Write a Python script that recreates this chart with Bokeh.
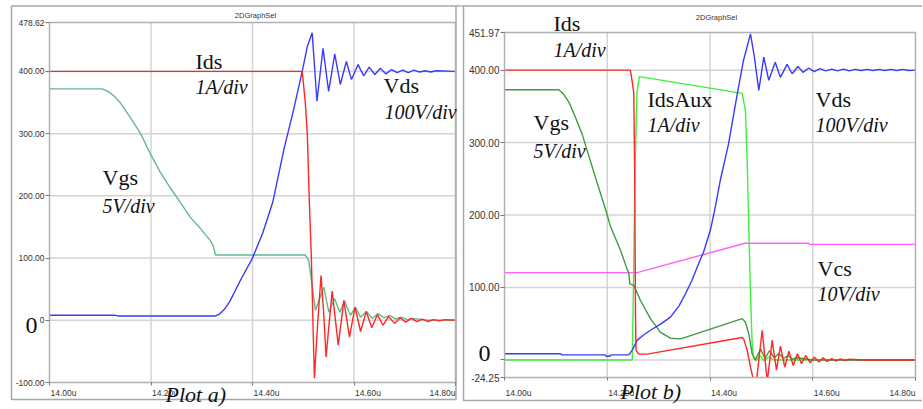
from bokeh.plotting import figure
from bokeh.models import Range1d, FixedTicker, Label, LinearAxis, BoxAnnotation
from bokeh.layouts import row
from bokeh.embed import file_html
from bokeh.resources import INLINE

# ---------------- data ----------------
X_TICKS = [14.0, 14.2, 14.4, 14.6, 14.8]
X_TICK_LABELS = ["14.00u", "14.20u", "14.40u", "14.60u", "14.80u"]

A_Y_TICKS = [-100, 0, 100, 200, 300, 400, 478.62]
A_Y_LABELS = ["-100.00", "0", "100.00", "200.00", "300.00", "400.00", "478.62"]
B_Y_TICKS = [-24.25, 0, 100, 200, 300, 400, 451.97]
B_Y_LABELS = ["-24.25", "", "100.00", "200.00", "300.00", "400.00", "451.97"]

# Plot a)  (time in us, value in chart units)
A_IDS = [(14.00, 400), (14.498, 400), (14.504, 350), (14.508, 300), (14.512, 190), (14.516, 100),
         (14.519, 0), (14.522, -93), (14.528, -10), (14.535, 72), (14.540, 15), (14.545, -59),
         (14.551, -5), (14.557, 47), (14.563, 3), (14.569, -40), (14.580, 32), (14.591, -27),
         (14.602, 21), (14.613, -18), (14.624, 14), (14.635, -12), (14.646, 9), (14.657, -8),
         (14.668, 6), (14.680, -5), (14.691, 4), (14.702, -3), (14.713, 3), (14.724, -2),
         (14.735, 2), (14.746, -2), (14.757, 1), (14.768, -1), (14.779, 1), (14.80, 0)]
A_VDS = [(14.00, 8), (14.13, 8), (14.135, 7), (14.327, 7), (14.335, 10), (14.345, 18), (14.355, 30),
         (14.376, 64), (14.40, 100), (14.42, 140), (14.44, 190), (14.462, 275), (14.48, 335),
         (14.498, 400), (14.508, 440), (14.5176, 462), (14.527, 352), (14.539, 437), (14.550, 368),
         (14.562, 428), (14.573, 379), (14.585, 416), (14.595, 387), (14.608, 411), (14.619, 393),
         (14.630, 407), (14.641, 395), (14.652, 405), (14.663, 396), (14.674, 403), (14.685, 398),
         (14.696, 402), (14.707, 398), (14.718, 402), (14.729, 399), (14.740, 401), (14.751, 399),
         (14.762, 401), (14.80, 400)]
A_VGS = [(14.00, 372), (14.104, 372), (14.115, 368), (14.128, 360), (14.140, 349), (14.160, 325),
         (14.179, 301), (14.199, 267), (14.219, 237), (14.238, 213), (14.258, 189), (14.278, 165),
         (14.298, 147), (14.317, 128), (14.3225, 120), (14.327, 105), (14.504, 105), (14.511, 96),
         (14.518, 53), (14.524, 16), (14.5405, 53), (14.5504, 13), (14.5616, 35), (14.572, 13),
         (14.5813, 31), (14.593, 8), (14.603, 21), (14.6128, 5), (14.6246, 14), (14.636, 3),
         (14.647, 11), (14.659, 4), (14.6705, 8), (14.682, 2), (14.693, 5), (14.705, 1),
         (14.7166, 3), (14.74, 0.5), (14.80, 0)]

# Plot b)
B_IDS = [(14.00, 400), (14.245, 400), (14.2497, 379), (14.2517, 368), (14.2535, 250), (14.255, 60),
         (14.256, 13), (14.2614, 8), (14.2778, 8), (14.4627, 31), (14.466, 28), (14.4725, 13),
         (14.4788, -10), (14.4853, -30), (14.4887, -40), (14.5016, 41), (14.5114, -30), (14.521, 27),
         (14.5294, -14), (14.537, 19), (14.5456, -10), (14.5534, 12), (14.562, -7.6), (14.570, 8.5),
         (14.578, -5), (14.5865, 6), (14.595, -4), (14.603, 4), (14.612, -3), (14.620, 3),
         (14.628, -2), (14.637, 2), (14.645, -1.5), (14.654, 1.5), (14.662, -1), (14.671, 1),
         (14.70, 0), (14.80, 0)]
B_VDS = [(14.00, 8.5), (14.109, 8.5), (14.112, 7), (14.195, 7), (14.198, 5), (14.205, 5), (14.208, 7),
         (14.242, 7), (14.250, 15), (14.258, 27), (14.270, 34), (14.284, 41), (14.303, 49),
         (14.323, 59), (14.340, 75), (14.352, 91), (14.365, 110), (14.375, 128), (14.388, 150),
         (14.401, 180), (14.410, 210), (14.420, 248), (14.436, 298), (14.453, 367), (14.465, 413),
         (14.4788, 450), (14.486, 420), (14.495, 372), (14.5047, 418), (14.5144, 386), (14.527, 411),
         (14.537, 390), (14.550, 408), (14.560, 395), (14.571, 405), (14.581, 397), (14.592, 403),
         (14.603, 398), (14.614, 402), (14.625, 399), (14.637, 401.5), (14.648, 399), (14.660, 401.5),
         (14.671, 399), (14.683, 401), (14.694, 399.5), (14.706, 401), (14.717, 399.5), (14.729, 401),
         (14.740, 399.5), (14.752, 401), (14.763, 399.5), (14.775, 401), (14.786, 399.5), (14.80, 400)]
B_VGS = [(14.00, 373), (14.1057, 373), (14.115, 367), (14.1252, 356), (14.138, 335), (14.151, 312),
         (14.164, 282), (14.177, 252), (14.1966, 208), (14.206, 185), (14.226, 151), (14.2388, 125),
         (14.242, 120), (14.244, 105), (14.2517, 103), (14.2647, 82), (14.284, 57), (14.3037, 38),
         (14.323, 30), (14.343, 29), (14.4627, 57), (14.469, 52), (14.4755, 36), (14.482, 8.5),
         (14.488, 0), (14.4985, 15), (14.507, 2), (14.516, 13), (14.525, 3), (14.534, 9),
         (14.543, 2), (14.552, 6), (14.560, 1), (14.570, 3), (14.60, 0), (14.80, 0)]
B_AUX = [(14.00, 0), (14.2486, 0), (14.2510, 100), (14.2540, 260), (14.2580, 370), (14.2625, 391),
         (14.4627, 368), (14.469, 344), (14.4724, 275), (14.4755, 183), (14.4788, 91), (14.482, 23),
         (14.485, 2), (14.490, -1), (14.497, 6), (14.505, -1), (14.514, 4), (14.524, 0), (14.80, 0)]
B_VCS = [(14.00, 120.5), (14.258, 120.5), (14.468, 161), (14.592, 161), (14.594, 159.5), (14.80, 159.5)]

RED, BLUE, SEAGREEN, DKGREEN, LIME, MAGENTA = "#ff2626", "#3a3aff", "#62b98a", "#3d9a3d", "#3cf03c", "#ff5cff"
GRID, FRAME, BORDER = "#d4d4d4", "#b0b0b0", "#a8a8a8"
FIG_H = 408


def unzip(pairs):
    return [q[0] for q in pairs], [q[1] for q in pairs]


class Geo:
    """Maps page pixels of the reference layout to data units of one panel."""

    def __init__(self, fig_x0, fig_w, px_l, px_r, py_t, py_b, t0, t1, v_bot, v_top):
        self.fig_x0, self.fig_w = fig_x0, fig_w
        self.px_l, self.py_t = px_l, py_t
        self.t0, self.t1, self.v_bot, self.v_top = t0, t1, v_bot, v_top
        self.kx = (t1 - t0) / (px_r - px_l)
        self.ky = (v_top - v_bot) / (py_b - py_t)

    def x(self, px):
        return self.t0 + (px - self.px_l) * self.kx

    def y(self, py):
        return self.v_top - (py - self.py_t) * self.ky


def panel(g, yticks):
    p = figure(width=g.fig_w, height=FIG_H, output_backend="svg", toolbar_location=None,
               x_range=Range1d(g.x(g.fig_x0), g.x(g.fig_x0 + g.fig_w)),
               y_range=Range1d(g.y(FIG_H), g.y(0)),
               x_axis_location=None, y_axis_location=None,
               min_border=0, min_border_left=0, min_border_right=0, min_border_top=0, min_border_bottom=0,
               border_fill_color="white", background_fill_color="white", outline_line_color=None)
    p.xgrid.visible = False
    p.ygrid.visible = False
    inner_x = [t for t in X_TICKS if g.t0 < t < g.t1]
    inner_y = [v for v in yticks if g.v_bot < v < g.v_top]
    p.segment(x0=inner_x, y0=[g.v_bot] * len(inner_x), x1=inner_x, y1=[g.v_top] * len(inner_x),
              line_color=GRID, line_width=1.5, level="underlay")
    p.segment(x0=[g.t0] * len(inner_y), y0=inner_y, x1=[g.t1] * len(inner_y), y1=inner_y,
              line_color=GRID, line_width=1.5, level="underlay")
    return p


def box(p, left, right, top, bottom, color, width=1.5):
    p.add_layout(BoxAnnotation(left=left, right=right, top=top, bottom=bottom,
                               fill_color=None, fill_alpha=0, line_color=color, line_alpha=1.0,
                               line_width=width))


def finish(p, g, yticks, ylabels, ylab_size, xlab_py):
    box(p, g.t0, g.t1, g.v_top, g.v_bot, FRAME)
    yax = LinearAxis(fixed_location=g.t0, ticker=FixedTicker(ticks=yticks),
                     major_label_overrides={t: s for t, s in zip(yticks, ylabels)})
    xax = LinearAxis(fixed_location=g.v_bot, ticker=FixedTicker(ticks=X_TICKS),
                     major_label_overrides={t: "" for t in X_TICKS})
    for ax in (yax, xax):
        ax.level = "overlay"
        ax.axis_line_color = None
        ax.major_tick_line_color = "#777777"
        ax.major_tick_in = 0
        ax.major_tick_out = 4
        ax.minor_tick_in = 0
        ax.minor_tick_out = 0
        ax.major_label_standoff = 1
        ax.major_label_text_font = "Liberation Sans"
        ax.major_label_text_color = "#333333"
        ax.major_label_text_font_size = ylab_size
    xax.major_tick_out = 3
    p.add_layout(yax, "left")
    p.add_layout(xax, "below")
    for i, (t, s) in enumerate(zip(X_TICKS, X_TICK_LABELS)):
        last = i == len(X_TICKS) - 1
        p.add_layout(Label(x=t, y=g.y(xlab_py), x_offset=(0 if last else 1), text=s,
                           text_align=("right" if last else "left"), text_baseline="middle",
                           text_font="Liberation Sans", text_font_size="8.5px", text_color="#333333"))


def txt(p, x, y, s, size="22px", style="normal", font="Liberation Serif", color="#111111",
        align="left", baseline="alphabetic", lift=6):
    p.add_layout(Label(x=x, y=y, y_offset=lift, text=s, text_font=font, text_font_size=size,
                       text_font_style=style, text_color=color, text_align=align,
                       text_baseline=baseline))


# ---------------- Plot a) ----------------
GA = Geo(0, 460, 49, 455, 22, 382, 14.0, 14.8, -100, 478.62)
pa = panel(GA, A_Y_TICKS)
t, v = unzip(A_VGS); pa.line(t, v, line_color=SEAGREEN, line_width=1.4)
t, v = unzip(A_VDS); pa.line(t, v, line_color=BLUE, line_width=1.4)
t, v = unzip(A_IDS); pa.line(t, v, line_color=RED, line_width=1.4)
box(pa, GA.x(11), GA.x(455.5), GA.y(5.5), GA.y(399), BORDER)
box(pa, GA.x(455.5), GA.x(470), GA.y(5.5), GA.y(5.5), BORDER)
finish(pa, GA, A_Y_TICKS, A_Y_LABELS, "8.5px", 392.7)

txt(pa, GA.x(255), GA.y(15), "2DGraphSel", size="7.5px", font="Liberation Sans", color="#333333",
    align="center", baseline="middle", lift=0)
txt(pa, GA.x(195), GA.y(67), "Ids")
txt(pa, GA.x(195), GA.y(92), "1A/div", size="20px", style="italic")
txt(pa, GA.x(383), GA.y(91), "Vds")
txt(pa, GA.x(384), GA.y(117), "100V/div", size="20px", style="italic")
txt(pa, GA.x(102), GA.y(183), "Vgs")
txt(pa, GA.x(102), GA.y(211), "5V/div", size="20px", style="italic")
txt(pa, GA.x(25), GA.y(331), "0", size="24px")
txt(pa, GA.x(165), GA.y(400), "Plot a)", size="22px", style="italic")

# ---------------- Plot b) ----------------
GB = Geo(460, 462, 504, 915, 32, 377, 14.0, 14.8, -24.25, 451.97)
pb = panel(GB, B_Y_TICKS)
t, v = unzip(B_VCS); pb.line(t, v, line_color=MAGENTA, line_width=1.4)
t, v = unzip(B_AUX); pb.line(t, v, line_color=LIME, line_width=1.4)
t, v = unzip(B_VGS); pb.line(t, v, line_color=DKGREEN, line_width=1.4)
t, v = unzip(B_VDS); pb.line(t, v, line_color=BLUE, line_width=1.4)
t, v = unzip(B_IDS); pb.line(t, v, line_color=RED, line_width=1.4)
# the plotting box clips the traces below its bottom edge
pb.add_layout(BoxAnnotation(left=GB.t0 - 0.005, right=GB.t1 + 0.005, top=GB.v_bot, bottom=GB.y(FIG_H + 5),
                            fill_color="white", fill_alpha=1.0, line_color=None))
box(pb, GB.x(463), GB.x(940), GB.y(5.5), GB.y(400), BORDER)
box(pb, GB.x(450), GB.x(463), GB.y(5.5), GB.y(5.5), BORDER)
finish(pb, GB, B_Y_TICKS, B_Y_LABELS, "10px", 392.7)

txt(pb, GB.x(716), GB.y(17), "2DGraphSel", size="7.5px", font="Liberation Sans", color="#333333",
    align="center", baseline="middle", lift=0)
txt(pb, GB.x(553), GB.y(29), "Ids")
txt(pb, GB.x(553), GB.y(55), "1A/div", size="20px", style="italic")
txt(pb, GB.x(647), GB.y(105), "IdsAux")
txt(pb, GB.x(647), GB.y(130), "1A/div", size="20px", style="italic")
txt(pb, GB.x(533), GB.y(128), "Vgs")
txt(pb, GB.x(533), GB.y(156), "5V/div", size="20px", style="italic")
txt(pb, GB.x(815), GB.y(105), "Vds")
txt(pb, GB.x(815), GB.y(130), "100V/div", size="20px", style="italic")
txt(pb, GB.x(817), GB.y(274), "Vcs")
txt(pb, GB.x(817), GB.y(299), "10V/div", size="20px", style="italic")
txt(pb, GB.x(478), GB.y(359), "0", size="24px")
txt(pb, GB.x(620), GB.y(397), "Plot b)", size="22px", style="italic")

layout = row(pa, pb)

open("out.html", "w").write(file_html(layout, INLINE))
